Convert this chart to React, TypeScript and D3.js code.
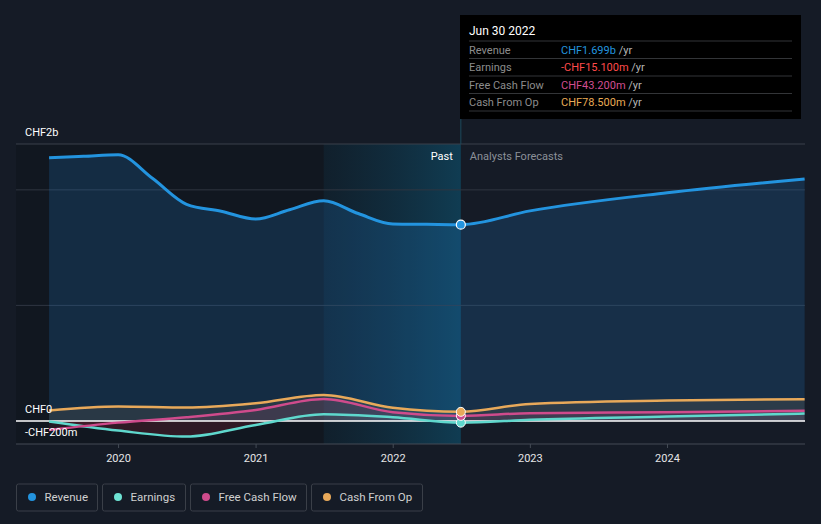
import React from 'react';
import * as d3 from 'd3';

// past (semi-annual) and forecast dates
const pastDates = ['2019-06-30', '2019-12-31', '2020-06-30', '2020-12-31', '2021-06-30', '2021-12-31', '2022-06-30'];
const forecastDates = ['2022-06-30', '2022-12-31', '2023-12-31', '2024-12-31'];

// revenue has quarterly points in the past
const revenueDates = [
  '2019-06-30', '2019-09-30', '2019-12-31', '2020-03-31', '2020-06-30', '2020-09-30', '2020-12-31',
  '2021-03-31', '2021-06-30', '2021-09-30', '2021-12-31', '2022-03-31', '2022-06-30',
];
const revenuePast = [2277, 2290, 2303, 2100, 1875, 1815, 1748, 1828, 1905, 1795, 1705, 1702, 1699];
const revenueForecast = [1699, 1818, 1975, 2095];

const earningsPast = [-5, -84, -136, -35, 58, 32, -15.1];
const earningsForecast = [-15.1, 9, 37, 63];
const fcfPast = [-78, -15, 32, 95, 190, 75, 43.2];
const fcfForecast = [43.2, 67, 75, 87];
const cfoPast = [89, 124, 115, 153, 225, 113, 78.5];
const cfoForecast = [78.5, 147, 176, 188];

const xTicks = ['2020', '2021', '2022', '2023', '2024'];
const gridValues = [1000, 2000];

const tooltipRows = [
  { label: 'Revenue', value: 'CHF1.699b', color: '#2394df' },
  { label: 'Earnings', value: '-CHF15.100m', color: '#ff4b4b' },
  { label: 'Free Cash Flow', value: 'CHF43.200m', color: '#d24d91' },
  { label: 'Cash From Op', value: 'CHF78.500m', color: '#e9aa55' },
];

const legendItems = [
  { label: 'Revenue', color: '#2394df' },
  { label: 'Earnings', color: '#6ee3d4' },
  { label: 'Free Cash Flow', color: '#cf4b8c' },
  { label: 'Cash From Op', color: '#e8a95a' },
];

const COL = {
  revenue: '#2394df',
  earnings: '#5fd8cd',
  fcf: '#cf4b8c',
  cfo: '#e8a95a',
};

type Pt = { d: Date; v: number };
const zip = (dates: string[], vals: number[]): Pt[] => dates.map((s, i) => ({ d: new Date(s), v: vals[i] }));

const font = 'Roboto, "Noto Sans", sans-serif';
const legendSize = 11.5;

// measure legend text so boxes hug their labels
const measure = (s: string, size: number) => {
  const ctx = document.createElement('canvas').getContext('2d');
  if (!ctx) return s.length * 6;
  ctx.font = `${size}px ${font}`;
  return ctx.measureText(s).width;
};

export default function App() {
  const W = 821;
  const H = 524;
  const left = 16;
  const right = 805;
  const top = 144;
  const bottom = 444;

  const x = d3.scaleTime()
    .domain([new Date('2019-04-03'), new Date('2025-01-01')])
    .range([left, right]);
  const y = d3.scaleLinear().domain([-200, 2397]).range([bottom, top]);

  const line = d3.line<Pt>().x(p => x(p.d)).y(p => y(p.v)).curve(d3.curveMonotoneX);
  const area = d3.area<Pt>().x(p => x(p.d)).y0(y(0)).y1(p => y(p.v)).curve(d3.curveMonotoneX);

  const rev = [...zip(revenueDates, revenuePast), ...zip(forecastDates, revenueForecast).slice(1)];
  const earn = [...zip(pastDates, earningsPast), ...zip(forecastDates, earningsForecast).slice(1)];
  const fcf = [...zip(pastDates, fcfPast), ...zip(forecastDates, fcfForecast).slice(1)];
  const cfo = [...zip(pastDates, cfoPast), ...zip(forecastDates, cfoForecast).slice(1)];

  const nowX = x(new Date('2022-06-30'));
  const yearAgoX = x(new Date('2021-06-30'));
  const zeroY = y(0);

  let lx = 16.5;
  const legend = legendItems.map(item => {
    const bw = Math.round(28 + measure(item.label, legendSize) + 10);
    const pos = lx;
    lx += bw + 5;
    return { ...item, pos, bw };
  });

  return (
    <div style={{ position: 'fixed', left: 0, top: 0 }}>
      <svg width={W} height={H} style={{ display: 'block', fontFamily: font }}>
        <defs>
          <linearGradient id="lastYear" x1="0" x2="1" y1="0" y2="0">
            <stop offset="0%" stopColor="#0f5070" stopOpacity={0.15} />
            <stop offset="100%" stopColor="#0f6a90" stopOpacity={0.45} />
          </linearGradient>
          <clipPath id="above">
            <rect x={0} y={0} width={W} height={zeroY} />
          </clipPath>
          <clipPath id="below">
            <rect x={0} y={zeroY} width={W} height={H - zeroY} />
          </clipPath>
        </defs>

        <rect width={W} height={H} fill="#151b26" />
        {/* past region */}
        <rect x={left} y={top} width={nowX - left} height={bottom - top} fill="#0c1016" opacity={0.35} />
        <rect x={yearAgoX} y={top} width={nowX - yearAgoX} height={bottom - top} fill="url(#lastYear)" />

        {/* grid */}
        <line x1={left} x2={right} y1={top} y2={top} stroke="#3a404a" strokeWidth={1} />
        {gridValues.map(v => (
          <line key={v} x1={left} x2={right} y1={y(v)} y2={y(v)} stroke="#2f3641" strokeWidth={1} />
        ))}

        {/* revenue area */}
        <path d={area(rev) || ''} fill="#2196f3" opacity={0.17} />

        {/* lower series fills */}
        <path d={area(cfo) || ''} fill="#e8a95a" opacity={0.1} />
        <path d={area(fcf) || ''} fill="#cf4b8c" opacity={0.12} clipPath="url(#above)" />
        <path d={area(fcf) || ''} fill="#c0304a" opacity={0.12} clipPath="url(#below)" />
        <path d={area(earn) || ''} fill="#5fd8cd" opacity={0.06} clipPath="url(#above)" />
        <path d={area(earn) || ''} fill="#b02a3a" opacity={0.2} clipPath="url(#below)" />

        <line x1={left} x2={right} y1={zeroY} y2={zeroY} stroke="#ffffff" strokeWidth={1.5} />

        <path d={line(rev) || ''} fill="none" stroke={COL.revenue} strokeWidth={3} />
        <path d={line(earn) || ''} fill="none" stroke={COL.earnings} strokeWidth={2.5} />
        <path d={line(fcf) || ''} fill="none" stroke={COL.fcf} strokeWidth={2.5} />
        <path d={line(cfo) || ''} fill="none" stroke={COL.cfo} strokeWidth={2.5} />

        {/* markers at latest actual */}
        <circle cx={nowX} cy={y(earningsPast[6])} r={4.5} fill={COL.earnings} stroke="#ffffff" strokeWidth={1} />
        <circle cx={nowX} cy={y(fcfPast[6])} r={4.5} fill={COL.fcf} stroke="#ffffff" strokeWidth={1} />
        <circle cx={nowX} cy={y(cfoPast[6])} r={4.5} fill={COL.cfo} stroke="#ffffff" strokeWidth={1} />
        <circle cx={nowX} cy={y(revenuePast[12])} r={4.5} fill={COL.revenue} stroke="#ffffff" strokeWidth={1.2} />

        {/* x axis */}
        <line x1={left} x2={right} y1={bottom} y2={bottom} stroke="#444b55" strokeWidth={1} />
        {xTicks.map(t => {
          const tx = x(new Date(`${t}-01-01`));
          return (
            <g key={t}>
              <line x1={tx} x2={tx} y1={bottom} y2={bottom + 4} stroke="#444b55" />
              <text x={tx} y={462} textAnchor="middle" fontSize={11} fill="#e6e6e6">{t}</text>
            </g>
          );
        })}

        {/* y labels */}
        <text x={25} y={136} fontSize={11} fill="#ffffff">CHF2b</text>
        <text x={25} y={413} fontSize={11} fill="#ffffff">CHF0</text>
        <text x={25} y={436} fontSize={11} fill="#ffffff">-CHF200m</text>

        {/* past / forecast labels */}
        <text x={nowX - 8} y={160} textAnchor="end" fontSize={11} fill="#ffffff">Past</text>
        <text x={nowX + 9} y={160} fontSize={11} fill="#8b9098">Analysts Forecasts</text>

        {/* tooltip */}
        <line x1={nowX} x2={nowX} y1={119} y2={top} stroke="#1c4a5c" strokeWidth={1} />
        <rect x={460} y={15} width={341} height={104} fill="#000000" />
        <text x={469} y={35} fontSize={12} fill="#ffffff">Jun 30 2022</text>
        {[41, 58.5, 76, 93.5, 111].map(ly => (
          <line key={ly} x1={469} x2={792} y1={ly} y2={ly} stroke="#333538" strokeWidth={1} />
        ))}
        {tooltipRows.map((r, i) => {
          const ty = 53.5 + i * 17.5;
          return (
            <g key={r.label}>
              <text x={469} y={ty} fontSize={11} fill="#8c8c8c">{r.label}</text>
              <text x={561} y={ty} fontSize={11} fill={r.color}>
                {r.value}
                <tspan fill="#b5b5b5"> /yr</tspan>
              </text>
            </g>
          );
        })}

        {/* legend */}
        {legend.map(item => (
          <g key={item.label} transform={`translate(${item.pos},484)`}>
            <rect width={item.bw} height={27} rx={2} fill="none" stroke="#3a3f48" strokeWidth={1} />
            <circle cx={15.5} cy={13} r={4} fill={item.color} />
            <text x={28} y={17} fontSize={legendSize} fill="#d0d0d0">{item.label}</text>
          </g>
        ))}
      </svg>
    </div>
  );
}
